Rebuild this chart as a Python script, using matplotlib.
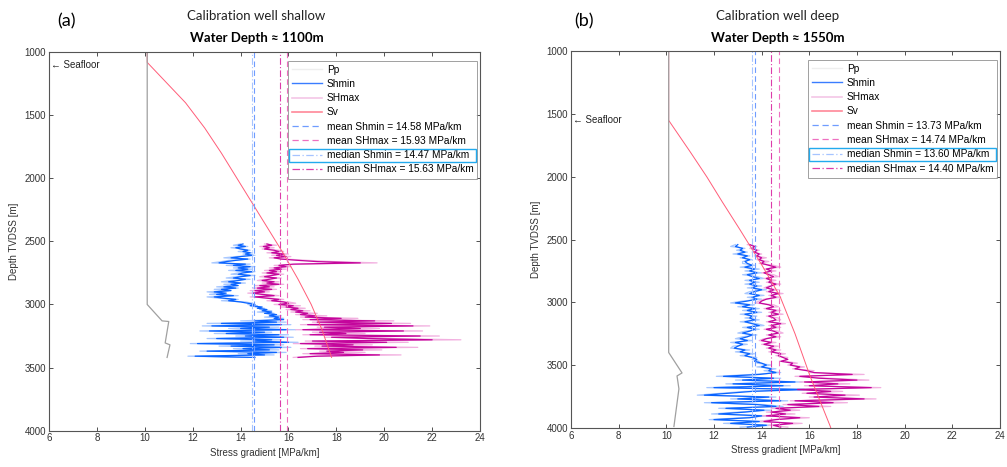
import numpy as np
import matplotlib
matplotlib.use("Agg")
import matplotlib.pyplot as plt
from matplotlib.lines import Line2D
from matplotlib.patches import Rectangle

plt.rcParams['font.family'] = ['Liberation Sans', 'DejaVu Sans']

##############################
# Data - panel (a), shallow well

a_depth = np.arange(2520, 3421, 10)

a_shmin = [14.1, 13.9, 14.2, 13.8, 14.0, 14.3, 14.1, 14.4, 14.2, 14.5,
           14.0, 13.6, 14.3, 13.8, 13.4, 13.1, 14.2, 13.7, 14.4, 13.9,
           14.3, 13.8, 14.5, 14.1, 13.9, 14.4, 14.0, 13.7, 14.2, 13.9,
           13.5, 14.0, 13.6, 13.9, 13.3, 13.8, 13.2, 13.6, 12.9, 13.4,
           13.0, 13.7, 12.9, 13.3, 13.8, 13.5, 14.0, 14.3, 14.6, 14.4,
           14.9, 14.7, 15.1, 14.9, 15.3, 15.0, 15.5, 15.2, 15.6, 15.4,
           15.8, 14.6, 15.5, 13.2, 15.7, 12.8, 15.2, 14.0, 15.9, 12.7,
           15.0, 13.4, 15.6, 14.2, 15.8, 13.0, 15.3, 14.5, 16.0, 12.2,
           15.4, 13.6, 15.7, 14.1, 15.2, 12.6, 15.5, 14.3, 15.0, 12.1,
           14.6]
a_shmin_raw = [14.0, 13.7, 14.3, 13.6, 14.1, 14.4, 13.9, 14.5, 14.1, 14.6,
               13.8, 13.3, 14.4, 13.5, 13.2, 12.8, 14.4, 13.4, 14.6, 13.7,
               14.5, 13.5, 14.6, 13.9, 13.6, 14.6, 13.8, 13.4, 14.4, 13.6,
               13.2, 14.2, 13.3, 13.7, 13.0, 13.9, 12.9, 13.5, 12.6, 13.2,
               12.7, 13.9, 12.6, 13.1, 13.9, 13.2, 14.2, 14.5, 14.3, 14.7,
               14.6, 15.0, 14.8, 15.3, 14.7, 15.4, 15.2, 15.7, 15.0, 15.8,
               15.5, 14.0, 15.9, 12.6, 16.1, 12.4, 15.6, 13.5, 16.3, 12.3,
               15.3, 12.9, 16.0, 13.8, 16.2, 12.6, 15.7, 14.0, 16.4, 11.9,
               15.8, 13.1, 16.1, 13.7, 15.6, 12.3, 15.9, 13.9, 15.4, 11.8,
               14.3]
a_shmax = [15.1, 15.3, 14.95, 15.2, 15.0, 15.4, 15.6, 15.3, 15.8, 15.5,
           15.9, 15.4, 15.7, 16.4, 17.2, 19.0, 16.2, 15.6, 15.9, 15.4,
           15.7, 15.2, 15.5, 15.1, 15.6, 15.3, 15.0, 15.5, 15.2, 14.9,
           15.4, 15.1, 15.6, 14.8, 15.2, 14.7, 15.3, 14.6, 15.0, 14.5,
           14.9, 15.4, 14.6, 15.1, 15.6, 15.3, 15.8, 16.0, 15.6, 16.2,
           15.9, 16.4, 16.1, 16.6, 16.3, 16.8, 16.5, 17.1, 16.7, 18.2,
           16.9, 19.6, 17.2, 20.3, 16.8, 21.2, 17.5, 19.0, 16.6, 20.8,
           17.3, 18.4, 16.9, 21.5, 17.8, 19.3, 22.0, 17.0, 20.1, 16.5,
           18.7, 17.4, 20.5, 16.8, 19.1, 17.6, 18.3, 16.9, 19.8, 17.2,
           16.4]
a_shmax_raw = [15.0, 15.5, 14.8, 15.4, 14.9, 15.6, 15.8, 15.1, 16.0, 15.3,
               16.1, 15.2, 15.9, 16.8, 17.9, 19.7, 16.5, 15.4, 16.1, 15.2,
               15.9, 15.0, 15.7, 14.9, 15.8, 15.1, 14.8, 15.7, 15.0, 14.7,
               15.6, 14.9, 15.8, 14.6, 15.4, 14.5, 15.5, 14.4, 15.2, 14.3,
               15.1, 15.6, 14.4, 15.3, 15.8, 15.1, 16.0, 16.3, 15.4, 16.5,
               15.7, 16.7, 15.9, 16.9, 16.1, 17.2, 16.3, 17.6, 16.5, 18.9,
               16.6, 20.4, 17.0, 21.1, 16.5, 21.9, 17.2, 19.8, 16.3, 21.6,
               17.0, 19.2, 16.6, 22.3, 17.5, 20.2, 23.2, 16.7, 21.0, 16.2,
               19.5, 17.1, 21.4, 16.5, 19.9, 17.3, 19.2, 16.6, 20.7, 17.0,
               16.2]

a_sv_depth = [1000, 1080, 1200, 1400, 1600, 1800, 2000, 2200, 2400, 2600, 2800, 3000, 3200, 3420]
a_sv = [10.1, 10.1, 10.7, 11.7, 12.5, 13.2, 13.85, 14.5, 15.15, 15.8, 16.4, 16.95, 17.4, 17.8]
a_pp_depth = [1000, 3000, 3130, 3135, 3305, 3320, 3420]
a_pp = [10.1, 10.1, 10.72, 11.0, 10.85, 11.05, 10.93]

a_stats = [14.58, 15.93, 14.47, 15.63]   # mean Shmin, mean SHmax, median Shmin, median SHmax
a_seafloor = 1100

##############################
# Data - panel (b), deep well

b_depth = np.arange(2540, 4001, 15)

b_shmin = [13.0, 12.9, 13.2, 13.1, 13.3, 13.0, 13.4, 13.2, 13.5, 13.3,
           13.4, 13.6, 13.3, 13.7, 13.5, 13.8, 13.4, 13.6, 13.9, 13.5,
           13.7, 13.5, 13.8, 13.6, 14.0, 13.7, 13.5, 13.9, 13.6, 13.8,
           13.4, 12.9, 13.5, 13.2, 13.7, 13.4, 13.8, 13.3, 13.6, 13.5,
           13.7, 13.3, 13.6, 13.9, 13.4, 13.7, 13.5, 13.2, 13.6, 13.4,
           13.1, 13.4, 12.9, 13.2, 13.0, 12.85, 13.3, 13.1, 13.5, 13.3,
           13.6, 13.8, 13.7, 14.0, 14.2, 14.0, 14.4, 14.3, 14.6, 13.9,
           12.4, 14.5, 13.2, 15.4, 12.8, 14.9, 12.0, 15.8, 13.6, 12.6,
           11.6, 14.3, 13.0, 14.8, 11.9, 13.8, 14.6, 12.5, 14.1, 13.3,
           12.2, 14.0, 13.5, 12.0, 13.9, 12.7, 14.2, 13.4]
b_shmin_raw = [12.9, 12.7, 13.3, 12.95, 13.4, 12.8, 13.5, 13.1, 13.6, 13.2,
               13.2, 13.7, 13.1, 13.9, 13.3, 14.0, 13.2, 13.8, 14.1, 13.3,
               13.9, 13.3, 14.0, 13.4, 14.2, 13.5, 13.3, 14.1, 13.4, 14.0,
               13.2, 12.7, 13.7, 13.0, 13.9, 13.2, 14.0, 13.1, 13.8, 13.3,
               13.9, 13.1, 13.8, 14.1, 13.2, 13.9, 13.3, 13.0, 13.8, 13.2,
               12.9, 13.6, 12.7, 13.4, 12.8, 12.7, 13.5, 12.9, 13.7, 13.1,
               13.8, 13.6, 13.9, 13.8, 14.4, 13.8, 14.6, 14.1, 14.8, 13.6,
               12.1, 14.8, 12.9, 15.7, 12.5, 15.2, 11.7, 16.0, 13.3, 12.3,
               11.3, 14.6, 12.7, 15.1, 11.6, 14.1, 14.9, 12.2, 14.4, 13.0,
               11.9, 14.3, 13.2, 11.8, 14.2, 12.4, 14.5, 13.1]
b_shmax = [13.5, 13.7, 13.6, 13.8, 13.7, 13.9, 13.8, 14.0, 13.9, 14.1,
           14.0, 14.3, 14.6, 14.2, 14.4, 14.1, 14.3, 14.5, 14.2, 14.4,
           14.3, 14.6, 14.4, 14.2, 14.5, 14.3, 14.7, 14.4, 14.6, 14.2,
           14.0, 13.9, 14.3, 14.5, 14.2, 14.6, 14.4, 14.7, 14.3, 14.5,
           14.6, 14.3, 14.8, 14.4, 14.6, 14.2, 14.5, 14.7, 14.3, 14.6,
           14.2, 14.0, 14.4, 14.1, 14.5, 14.3, 14.6, 14.4, 14.8, 14.7,
           14.9, 15.1, 14.8, 15.3, 15.2, 15.6, 15.4, 15.9, 16.2, 17.8,
           15.6, 16.4, 18.0, 15.8, 17.2, 16.0, 18.6, 15.5, 16.9, 15.9,
           17.5, 16.2, 18.3, 15.4, 17.0, 15.1, 16.4, 14.6, 15.2, 14.4,
           15.0, 14.2, 15.6, 14.6, 14.1, 15.3, 14.5, 14.8]
b_shmax_raw = [13.4, 13.8, 13.5, 13.9, 13.6, 14.0, 13.7, 14.2, 13.8, 14.3,
               13.9, 14.5, 14.8, 14.1, 14.6, 14.0, 14.5, 14.7, 14.1, 14.6,
               14.2, 14.8, 14.3, 14.1, 14.7, 14.2, 14.9, 14.3, 14.8, 14.1,
               13.9, 13.7, 14.5, 14.7, 14.1, 14.8, 14.3, 14.9, 14.2, 14.7,
               14.8, 14.2, 15.0, 14.3, 14.8, 14.1, 14.7, 14.9, 14.2, 14.8,
               14.1, 13.9, 14.6, 14.0, 14.7, 14.2, 14.8, 14.3, 15.0, 14.6,
               15.1, 15.0, 15.0, 15.5, 15.1, 15.8, 15.3, 16.2, 16.0, 18.3,
               15.4, 16.8, 18.5, 15.6, 17.7, 15.8, 19.0, 15.3, 17.4, 15.7,
               18.1, 16.0, 18.8, 15.2, 17.6, 14.9, 16.9, 14.4, 15.6, 14.2,
               15.4, 14.0, 16.0, 14.4, 13.9, 15.7, 14.3, 15.1]

b_sv_depth = [1000, 1550, 1800, 2000, 2200, 2421, 2700, 2952, 3250, 3587, 3984, 4000]
b_sv = [10.1, 10.1, 11.0, 11.7, 12.35, 13.09, 14.0, 14.77, 15.4, 16.03, 16.87, 16.9]
b_pp_depth = [1000, 3400, 3563, 3587, 3690, 3990]
b_pp = [10.1, 10.1, 10.66, 10.45, 10.53, 10.32]

b_stats = [13.73, 14.74, 13.60, 14.40]
b_seafloor = 1550

titles = ["Calibration well shallow", "Calibration well deep"]
subtitles = ["Water Depth \u2248 1100m", "Water Depth \u2248 1550m"]
letters = ["(a)", "(b)"]

##############################
# Styles

c_shmin = "#0a64ff"
c_shmin_raw = "#a8c8ff"
c_shmax = "#c4069c"
c_shmax_raw = "#f2b0e0"
c_sv = "#ff5c78"
c_pp = "#a0a0a0"
stat_styles = [("#6f9cff", (0, (5, 3))), ("#ee70c0", (0, (5, 3))),
               ("#a6c4ff", (0, (6, 2, 1, 2))), ("#dc3caa", (0, (6, 2, 1, 2)))]
stat_names = ["mean Shmin", "mean SHmax", "median Shmin", "median SHmax"]

fig = plt.figure(figsize=(10.07, 4.67), dpi=100)
axes = [fig.add_axes([0.0487, 0.078, 0.428, 0.810]),
        fig.add_axes([0.567, 0.084, 0.426, 0.806])]

panels = [
    (a_depth, a_shmin, a_shmin_raw, a_shmax, a_shmax_raw, a_sv_depth, a_sv, a_pp_depth, a_pp, a_stats, a_seafloor),
    (b_depth, b_shmin, b_shmin_raw, b_shmax, b_shmax_raw, b_sv_depth, b_sv, b_pp_depth, b_pp, b_stats, b_seafloor),
]

legends = []
for i, (ax, p) in enumerate(zip(axes, panels)):
    depth, shmin, shmin_raw, shmax, shmax_raw, sv_d, sv, pp_d, pp, stats, seafloor = p
    ax.plot(shmin_raw, depth, color=c_shmin_raw, lw=0.9)
    ax.plot(shmax_raw, depth, color=c_shmax_raw, lw=0.9)
    ax.plot(shmin, depth, color=c_shmin, lw=0.9)
    ax.plot(shmax, depth, color=c_shmax, lw=0.9)
    ax.plot(sv, sv_d, color=c_sv, lw=0.7)
    ax.plot(pp, pp_d, color=c_pp, lw=0.9)
    for val, (col, ls) in zip(stats, stat_styles):
        ax.axvline(val, color=col, ls=ls, lw=0.8)

    ax.set_xlim(6, 24)
    ax.set_ylim(4000, 1000)
    ax.set_xticks(range(6, 25, 2))
    ax.set_yticks(range(1000, 4001, 500))
    ax.tick_params(direction="in", top=True, right=True, labelsize=7, colors="#333333",
                   length=3, width=0.6, pad=2)
    for s in ax.spines.values():
        s.set_color("#555555")
        s.set_linewidth(0.8)
    ax.set_xlabel("Stress gradient [MPa/km]", fontsize=7, color="#333333", labelpad=3)
    ax.set_ylabel("Depth TVDSS [m]", fontsize=7, color="#333333", labelpad=4)
    ax.text(6.1, seafloor, "\u2190 Seafloor", fontsize=7, color="#222222", va="center", ha="left")

    handles = [Line2D([], [], color="#eeeeee", lw=1),
               Line2D([], [], color="#3a7dff", lw=1),
               Line2D([], [], color="#f4c6e6", lw=1.2),
               Line2D([], [], color="#ff8898", lw=1.2)]
    labels = ["Pp", "Shmin", "SHmax", "Sv"]
    for val, name, (col, ls) in zip(stats, stat_names, stat_styles):
        handles.append(Line2D([], [], color=col, ls=ls, lw=0.9))
        labels.append("%s = %.2f MPa/km" % (name, val))
    leg = ax.legend(handles, labels, loc="upper right", bbox_to_anchor=(0.994, 0.978),
                    fontsize=7.3, frameon=True, fancybox=False, edgecolor="#888888",
                    borderaxespad=0, labelspacing=0.42, handlelength=2.9, handletextpad=0.5,
                    borderpad=0.4)
    leg.get_frame().set_linewidth(0.7)
    legends.append(leg)

    x0 = axes[i].get_position().x0 + axes[i].get_position().width / 2 - 0.008
    fig.text(x0, 0.966, titles[i], fontsize=9.5, family="Lato", ha="center", va="center", color="#222222")
    fig.text(x0, 0.918, subtitles[i], fontsize=9.5, family="Lato", weight="bold", ha="center", va="center")

fig.text(0.066, 0.955, letters[0], fontsize=13, family="Lato", ha="center", va="center")
fig.text(0.580, 0.955, letters[1], fontsize=13, family="Lato", ha="center", va="center")

# highlight box around the median Shmin entry
fig.canvas.draw()
inv = fig.transFigure.inverted()
for leg in legends:
    lb = leg.get_window_extent()
    tb = leg.get_texts()[6].get_window_extent()
    (fx0, fy0) = inv.transform((lb.x0 + 1, tb.y0 - 1.5))
    (fx1, fy1) = inv.transform((lb.x1 - 1, tb.y1 + 1.5))
    fig.patches.append(Rectangle((fx0, fy0), fx1 - fx0, fy1 - fy0, transform=fig.transFigure,
                                 fill=False, edgecolor="#22aaee", lw=1.0, zorder=10))

fig.savefig("out.png", dpi=100)
